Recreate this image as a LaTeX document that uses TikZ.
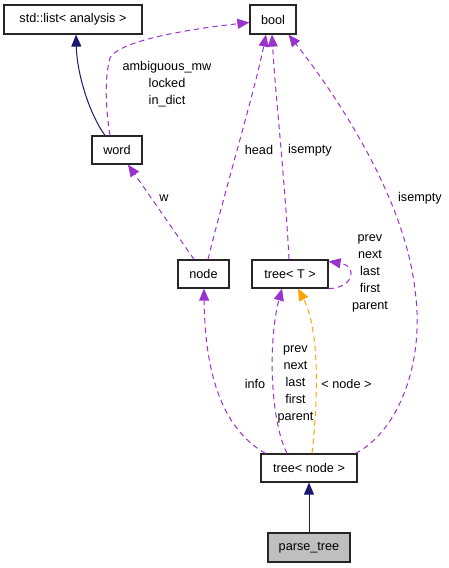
\documentclass[tikz,border=0pt]{standalone}
\usepackage{fontspec}
\setmainfont{Liberation Sans}
\usetikzlibrary{arrows.meta,calc}
\definecolor{edgepurple}{HTML}{9A32CD}
\definecolor{edgeorange}{HTML}{FFA500}
\definecolor{edgeblue}{HTML}{191970}
\definecolor{boxgray}{HTML}{BFBFBF}
\tikzset{
  cls/.style={draw=black!85, line width=0.9pt, fill=white, inner sep=0pt, font=\fontsize{9.5}{11}\selectfont},
  lbl/.style={inner sep=0pt, align=center, font=\fontsize{9.5}{12.75}\selectfont},
  usage/.style={-{Triangle[length=9pt,width=7.5pt,fill=edgepurple]}, draw=edgepurple, line width=0.75pt, dash pattern=on 4pt off 3pt},
  tmpl/.style={-{Triangle[length=9pt,width=7.5pt,fill=edgeorange]}, draw=edgeorange, line width=0.75pt, dash pattern=on 4pt off 3pt},
  inherit/.style={-{Triangle[length=9pt,width=7.5pt,fill=edgeblue]}, draw=edgeblue, line width=0.75pt},
}
\begin{document}
\begin{tikzpicture}[x=0.75pt,y=-0.75pt]
\useasboundingbox[fill=white] (0,0) rectangle (449,568);
% classes
\node[cls, minimum width=103.5pt, minimum height=21.75pt] (stdlist) at (73,19.5) {std::list< analysis >};
\node[cls, minimum width=34.5pt, minimum height=21.75pt] (bool) at (273,19.5) {bool};
\node[cls, minimum width=37.5pt, minimum height=21pt] (word) at (117,150) {word};
\node[cls, minimum width=38.25pt, minimum height=21pt] (node) at (203.5,274) {node};
\node[cls, minimum width=57pt, minimum height=21pt] (treeT) at (290,274) {tree< T >};
\node[cls, minimum width=72pt, minimum height=21pt] (treenode) at (309,468) {tree< node >};
\node[cls, fill=boxgray, minimum width=61.5pt, minimum height=21.75pt] (parse) at (309,547.5) {parse\_tree};
% connectors
\draw[inherit] ($(word.north)+(-12,0)$) .. controls (90,115) and (77,75) .. ($(stdlist.south)+(3,0)$);
\draw[usage] ($(word.north)+(-7,0)$) .. controls (106,110) and (104,80) .. (110,58) .. controls (118,42) and (180,30) .. ($(bool.west)+(0,3)$);
\draw[usage] ($(node.north)+(4.5,0)$) .. controls (225,190) and (255,90) .. ($(bool.south)+(-7,0)$);
\draw[usage] ($(treeT.north)+(-1,0)$) .. controls (285,180) and (275,90) .. ($(bool.south)+(-1,0)$);
\draw[usage] ($(treenode.north east)+(-2,0)$) .. controls (400,430) and (425,360) .. (415,290) .. controls (405,200) and (340,100) .. ($(bool.south east)+(-8,0)$);
\draw[usage] ($(node.north)+(-9.5,0)$) -- ($(word.south)+(11,0)$);
\draw[usage] (treeT.south east) .. controls (354,288) and (358,266) .. ($(treeT.north east)+(0,2)$);
\draw[usage] ($(treenode.north west)+(5,0)$) .. controls (225,430) and (205,380) .. ($(node.south)+(0.5,0)$);
\draw[usage] ($(treenode.north)+(-22,0)$) .. controls (270,420) and (268,340) .. ($(treeT.south)+(-8,0)$);
\draw[tmpl] ($(treenode.north)+(3,0)$) .. controls (318,400) and (320,330) .. ($(treeT.south)+(8,0)$);
\draw[inherit] (parse.north) -- (treenode.south);
% labels
\node[lbl] (l1) at (167,84) {ambiguous\_mw\\locked\\in\_dict};
\node[lbl] (l2) at (259,150) {head};
\node[lbl] (l3) at (310,150) {isempty};
\node[lbl] (l4) at (420,198) {isempty};
\node[lbl] (l5) at (164,198) {w};
\node[lbl] (l6) at (370,273.5) {prev\\next\\last\\first\\parent};
\node[lbl] (l7) at (295.5,384) {prev\\next\\last\\first\\parent};
\node[lbl] (l8) at (255,384) {info};
\node[lbl] (l9) at (346.5,384) {< node >};
\end{tikzpicture}
\end{document}
